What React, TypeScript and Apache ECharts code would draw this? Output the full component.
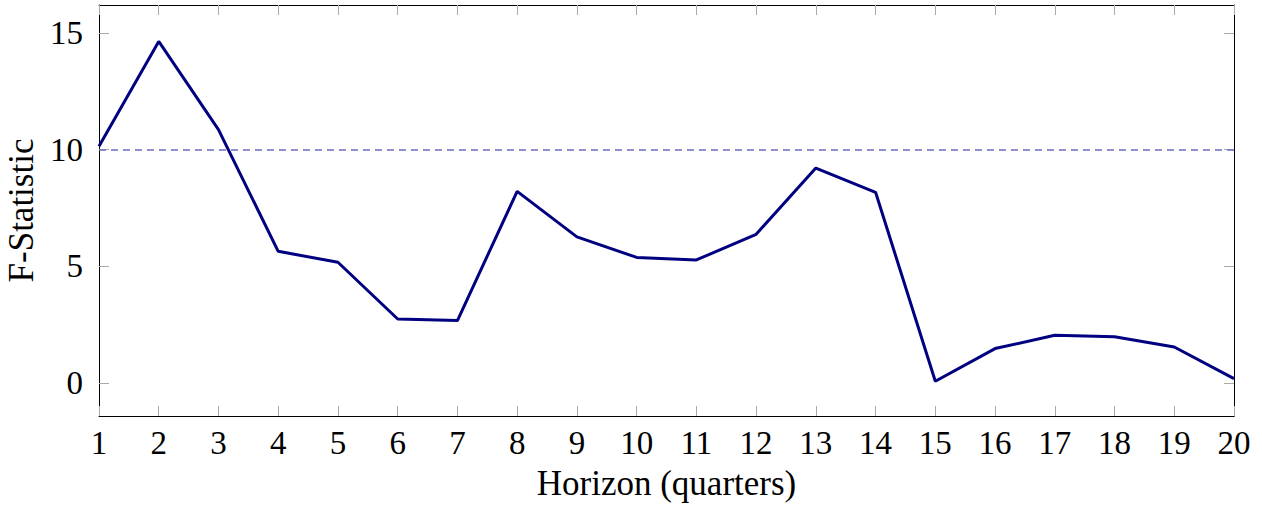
import React, { useEffect, useRef } from "react";
import * as echarts from "echarts";

const horizons = [1, 2, 3, 4, 5, 6, 7, 8, 9, 10, 11, 12, 13, 14, 15, 16, 17, 18, 19, 20];
const fStat = [10.14, 14.64, 10.86, 5.64, 5.17, 2.74, 2.67, 8.21, 6.26, 5.38, 5.27, 6.37, 9.21, 8.17, 0.07, 1.47, 2.04, 1.98, 1.54, 0.18];
const threshold = 10;
const yTicks = [0, 5, 10, 15];
const xLabel = "Horizon (quarters)";
const yLabel = "F-Statistic";

const FONT = "'Liberation Serif', 'DejaVu Serif', serif";
const FS = 33;
const NAME_FS = 35;

export default function App() {
  const ref = useRef<HTMLDivElement>(null);
  useEffect(() => {
    if (!ref.current) return;
    const chart = echarts.init(ref.current, null, { renderer: "svg" });
    const tickStyle = { show: true, inside: true, length: 10, lineStyle: { color: "#aaaaaa", width: 1 } };
    const lineStyle = { show: true, onZero: false, lineStyle: { color: "#000000", width: 1 } };
    chart.setOption({
      animation: false,
      backgroundColor: "#ffffff",
      grid: { left: 99, right: 28, top: 5, bottom: 90, containLabel: false, outerBoundsMode: "none" },
      xAxis: [
        {
          type: "value",
          min: 1,
          max: 20,
          interval: 1,
          position: "bottom",
          axisLine: lineStyle,
          axisTick: tickStyle,
          splitLine: { show: false },
          axisLabel: { color: "#000", fontFamily: FONT, fontSize: FS, margin: 10 },
          name: xLabel,
          nameLocation: "middle",
          nameGap: 50,
          nameTextStyle: { color: "#000", fontFamily: FONT, fontSize: NAME_FS },
        },
        {
          type: "value",
          min: 1,
          max: 20,
          interval: 1,
          position: "top",
          axisLine: lineStyle,
          axisTick: tickStyle,
          splitLine: { show: false },
          axisLabel: { show: false },
        },
      ],
      yAxis: [
        {
          type: "value",
          min: -1.42,
          max: 16.2,
          position: "left",
          axisLine: lineStyle,
          axisTick: { ...tickStyle, customValues: yTicks },
          splitLine: { show: false },
          axisLabel: { color: "#000", fontFamily: FONT, fontSize: FS, margin: 16, customValues: yTicks },
          name: yLabel,
          nameLocation: "middle",
          nameGap: 58,
          nameTextStyle: { color: "#000", fontFamily: FONT, fontSize: NAME_FS },
        },
        {
          type: "value",
          min: -1.42,
          max: 16.2,
          position: "right",
          axisLine: lineStyle,
          axisTick: { ...tickStyle, customValues: yTicks },
          splitLine: { show: false },
          axisLabel: { show: false },
        },
      ],
      series: [
        {
          type: "line",
          data: horizons.map((h, i) => [h, fStat[i]]),
          symbol: "none",
          lineStyle: { color: "#000080", width: 3 },
          markLine: {
            silent: true,
            symbol: "none",
            label: { show: false },
            lineStyle: { color: "#6b6bc4", width: 1.5, type: [7, 5] },
            data: [{ yAxis: threshold }],
          },
          z: 3,
        },
      ],
    });
    return () => chart.dispose();
  }, []);
  return (
    <div
      ref={ref}
      style={{ position: "fixed", left: 0, top: 0, width: 1262, height: 506, background: "#fff" }}
    />
  );
}
